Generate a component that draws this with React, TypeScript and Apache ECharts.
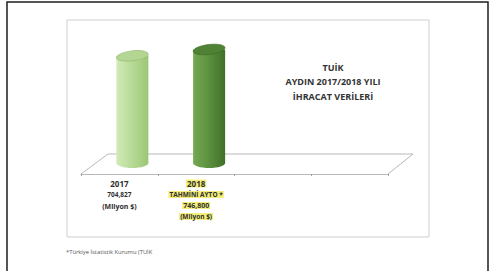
import React, { useEffect, useRef } from "react";
import * as echarts from "echarts";

const categories = ["2017", "2018", "", ""];
const values = [704.827, 746.8];
const valueLabels = ["704,827", "746,800"];
const titleLines = ["TUİK", "AYDIN 2017/2018 YILI", "İHRACAT VERİLERİ"];
const footnote = "*Türkiye İstatistik Kurumu (TUİK";

const bodyFills = [
  ["#d2eab8", "#b9dc9a", "#9cc673"],
  ["#74a852", "#5e9340", "#416f28"],
];
const topFills = ["#b3d692", "#4f8234"];
const edgeColors = ["#8fb86a", "#3c6a25"];

export default function App() {
  const ref = useRef<HTMLDivElement>(null);
  useEffect(() => {
    if (!ref.current) return;
    const chart = echarts.init(ref.current, undefined, { renderer: "svg" });
    const font = "'Open Sans', 'Liberation Sans', sans-serif";
    chart.setOption({
      animation: false,
      backgroundColor: "#ffffff",
      grid: { left: 81, right: 102, top: 22, bottom: 97 },
      xAxis: {
        type: "category",
        data: categories,
        boundaryGap: true,
        axisLine: { lineStyle: { color: "#b8b8b8", width: 1 } },
        axisTick: { show: true, length: 2, lineStyle: { color: "#a0a0a0" } },
        axisLabel: {
          margin: 4,
          interval: 0,
          fontFamily: font,
          color: "#2e2e2e",
          formatter: (v: string, i: number) => {
            if (i === 0)
              return `{y|${v}}\n{v|${valueLabels[0]}}\n{m|(Milyon $)}`;
            if (i === 1)
              return `{yh|${v}}\n{h|TAHMİNİ AYTO *}\n{hv|${valueLabels[1]}}\n{h|(Milyon $)}`;
            return "";
          },
          rich: {
            y: { fontSize: 8, fontWeight: "bold", lineHeight: 11, fontFamily: font, color: "#2e2e2e" },
            v: { fontSize: 6.5, fontWeight: "bold", lineHeight: 11, fontFamily: font, color: "#2e2e2e" },
            m: { fontSize: 7, fontWeight: "bold", lineHeight: 12, fontFamily: font, color: "#2e2e2e" },
            yh: { fontSize: 8, fontWeight: "bold", lineHeight: 11, fontFamily: font, color: "#2e2e2e", backgroundColor: "#f4ee78", padding: [0, 1] },
            h: { fontSize: 6.5, fontWeight: "bold", lineHeight: 11, fontFamily: font, color: "#2e2e2e", backgroundColor: "#f4ee78", padding: [0, 1] },
            hv: { fontSize: 7, fontWeight: "bold", lineHeight: 11, fontFamily: font, color: "#2e2e2e", backgroundColor: "#f4ee78", padding: [0, 1] },
          },
        },
      },
      yAxis: { type: "value", min: 0, max: 1000, show: false },
      graphic: [
        {
          type: "rect",
          z: -10,
          shape: { x: 7, y: 2, width: 481, height: 290 },
          style: { fill: "none", stroke: "#1e1e1e", lineWidth: 1.5 },
        },
        {
          type: "rect",
          z: -10,
          shape: { x: 67, y: 20, width: 362, height: 217 },
          style: { fill: "none", stroke: "#cfcfcf", lineWidth: 1 },
        },
        {
          type: "polyline",
          z: -5,
          shape: { points: [[81, 174], [108, 154], [413, 154], [388, 174]] },
          style: { fill: "none", stroke: "#b8b8b8", lineWidth: 1 },
        },
        ...titleLines.map((t, i) => ({
          type: "text",
          x: 333,
          y: 67 + i * 14.5,
          style: {
            text: t,
            align: "center",
            verticalAlign: "middle",
            font: `bold 9px ${font}`,
            fill: "#333333",
          },
        })),
        {
          type: "text",
          x: 66,
          y: 252,
          style: {
            text: footnote,
            align: "left",
            verticalAlign: "middle",
            font: `5.8px ${font}`,
            fill: "#555555",
          },
        },
      ],
      series: [
        {
          type: "custom",
          coordinateSystem: "cartesian2d",
          data: values.map((v, i) => [i, v]),
          renderItem: (params: any, api: any) => {
            const idx = api.value(0);
            const val = api.value(1);
            const top = api.coord([idx, val]);
            const base = api.coord([idx, 0]);
            const dx = 13;
            const dy = -11;
            const w = 32;
            const ry = 5;
            const cx = top[0] + dx;
            const ty = top[1] + dy;
            const by = base[1] + dy;
            const c = bodyFills[idx];
            const grad = {
              type: "linear",
              x: 0,
              y: 0,
              x2: 1,
              y2: 0,
              colorStops: [
                { offset: 0, color: c[0] },
                { offset: 0.45, color: c[1] },
                { offset: 1, color: c[2] },
              ],
            };
            return {
              type: "group",
              children: [
                {
                  type: "ellipse",
                  shape: { cx, cy: by, rx: w / 2, ry },
                  style: { fill: grad },
                },
                {
                  type: "rect",
                  shape: { x: cx - w / 2, y: ty, width: w, height: by - ty },
                  style: { fill: grad },
                },
                {
                  type: "ellipse",
                  shape: { cx: 0, cy: 0, rx: w / 2, ry },
                  x: cx,
                  y: ty,
                  rotation: 0.12,
                  style: { fill: topFills[idx], stroke: edgeColors[idx], lineWidth: 0.6 },
                },
              ],
            };
          },
        },
      ],
    });
    return () => chart.dispose();
  }, []);
  return (
    <div
      ref={ref}
      style={{ position: "fixed", left: 0, top: 0, width: 490, height: 271, background: "#fff" }}
    />
  );
}
